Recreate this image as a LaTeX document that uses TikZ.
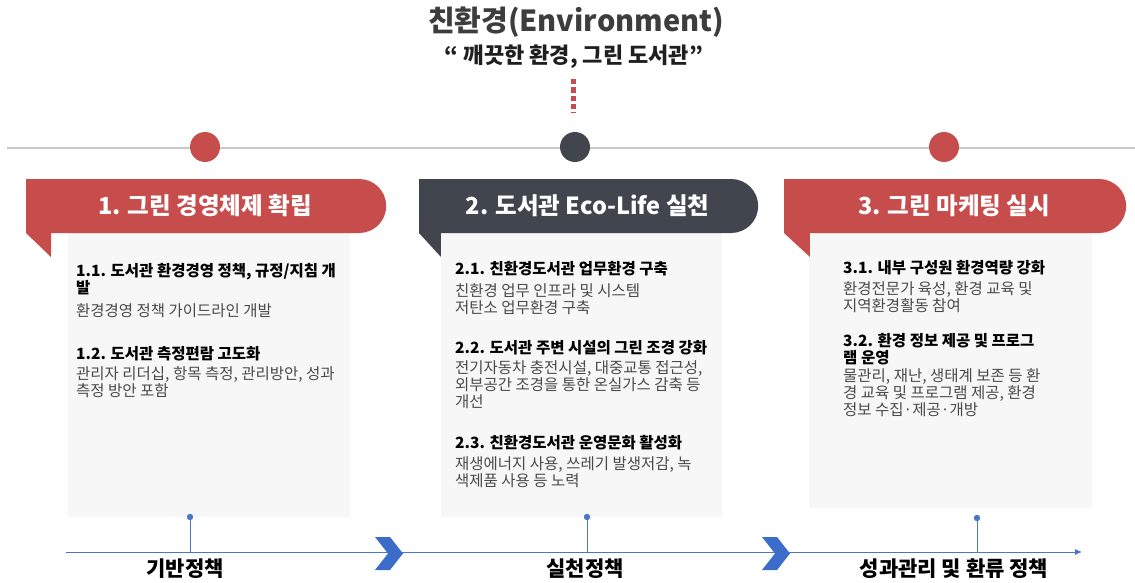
\documentclass[tikz,border=0pt]{standalone}
\usepackage{fontspec}
\setmainfont{Noto Sans CJK KR}
\usetikzlibrary{shapes.misc,arrows.meta}

\definecolor{ribred}{HTML}{C74D4D}
\definecolor{ribdark}{HTML}{41454E}
\definecolor{tlgray}{HTML}{C8C8C8}
\definecolor{boxgray}{HTML}{F7F7F7}
\definecolor{pinblue}{HTML}{4A76C8}
\definecolor{chevblue}{HTML}{3B6CC9}
\definecolor{desctext}{HTML}{4A4A4A}

\def\bodysize{\fontsize{15.5}{17}\selectfont}

\tikzset{
 ribbon/.style={rounded rectangle, rounded rectangle west arc=none,
  minimum width=#1, minimum height=54pt, inner sep=0pt, text=white,
  font=\fontsize{23.5}{26}\selectfont\bfseries},
 dot/.style={circle, minimum size=30pt, inner sep=0pt},
 panel/.style={rectangle, fill=boxgray, inner sep=0pt, anchor=north west},
 head/.style={anchor=north west, inner sep=0pt, align=left,
  font=\bodysize\bfseries, text=black},
 desc/.style={anchor=north west, inner sep=0pt, align=left,
  font=\bodysize, text=desctext},
 stage/.style={font=\fontsize{21}{24}\selectfont\bfseries, text=black},
 pin/.style={draw=pinblue, line width=0.9pt},
}

\begin{document}
\begin{tikzpicture}[x=1pt, y=-1pt]
 \useasboundingbox (0,0) rectangle (1135,583);
 % Title
 \node[font=\fontsize{29}{32}\selectfont\bfseries, text=black!76] (title)
  at (576,22) {친환경(Environment)};
 \node[font=\fontsize{22}{25}\selectfont\bfseries, text=black!88] (sub)
  at (574,57) {“ 깨끗한 환경, 그린 도서관”};
 \draw[ribred, line width=5pt, dash pattern=on 5.5pt off 2.8pt]
  (573,79) -- (573,113);
 % Time line
 \draw[tlgray, line width=2.5pt] (7,148) -- (1135,148);
 \node[dot, fill=ribred] (c1) at (205,147) {};
 \node[dot, fill=ribdark] (c2) at (575,147) {};
 \node[dot, fill=ribred] (c3) at (944,147) {};
 % Panels
 \node[panel, minimum width=282pt, minimum height=284pt] (b1) at (68,233) {};
 \node[panel, minimum width=281pt, minimum height=284pt] (b2) at (441,233) {};
 \node[panel, minimum width=283pt, minimum height=275pt] (b3) at (809,233) {};
 % Ribbons
 \node[ribbon=360pt, fill=ribred] (r1) at (205,206) {1. 그린 경영체제 확립};
 \node[ribbon=339pt, fill=ribdark] (r2) at (587.5,206) {2. 도서관 Eco-Life 실천};
 \node[ribbon=342pt, fill=ribred] (r3) at (954,206) {3. 그린 마케팅 실시};
 \fill[ribred] (r1.west) ++(0,27) -- ++(25,0) -- ++(0,24) -- cycle;
 \fill[ribdark] (r2.west) ++(0,27) -- ++(22,0) -- ++(0,24) -- cycle;
 \fill[ribred] (r3.west) ++(0,27) -- ++(26,0) -- ++(0,24) -- cycle;
 % Panel 1
 \node[head] (h11) at (76,263) {1.1. 도서관 환경경영 정책, 규정/지침 개\\발};
 \node[desc] (d11) at (76,303) {환경경영 정책 가이드라인 개발};
 \node[head] (h12) at (76,346) {1.2. 도서관 측정편람 고도화};
 \node[desc] (d12) at (76,366) {관리자 리더십, 항목 측정, 관리방안, 성과\\측정 방안 포함};
 % Panel 2
 \node[head] (h21) at (455,261) {2.1. 친환경도서관 업무환경 구축};
 \node[desc] (d21) at (455,283) {친환경 업무 인프라 및 시스템\\저탄소 업무환경 구축};
 \node[head] (h22) at (455,340) {2.2. 도서관 주변 시설의 그린 조경 강화};
 \node[desc] (d22) at (455,360) {전기자동차 충전시설, 대중교통 접근성,\\외부공간 조경을 통한 온실가스 감축 등\\개선};
 \node[head] (h23) at (455,435) {2.3. 친환경도서관 운영문화 활성화};
 \node[desc] (d23) at (455,456) {재생에너지 사용, 쓰레기 발생저감, 녹\\색제품 사용 등 노력};
 % Panel 3
 \node[head] (h31) at (843,260) {3.1. 내부 구성원 환경역량 강화};
 \node[desc] (d31) at (843,281) {환경전문가 육성, 환경 교육 및\\지역환경활동 참여};
 \node[head] (h32) at (843,333) {3.2. 환경 정보 제공 및 프로그\\램 운영};
 \node[desc] (d32) at (843,368) {물관리, 재난, 생태계 보존 등 환\\경 교육 및 프로그램 제공, 환경\\정보 수집·제공·개방};
 % Axis
 \coordinate (ax0) at (66,552);
 \coordinate (ax1) at (1082,552);
 \draw[pin, -{Latex[length=7pt,width=6pt]}] (ax0) -- (ax1);
 \foreach \x in {375,762}
  \fill[chevblue] (\x,537) -- ++(15,0) -- ++(13,16.5) -- ++(-13,16.5)
   -- ++(-15,0) -- ++(13,-16.5) -- cycle;
 % Pins
 \coordinate (p1) at (190,517);
 \coordinate (p2) at (587,517);
 \coordinate (p3) at (977,518);
 \foreach \p in {p1,p2,p3} {
  \draw[pin] (\p) -- (\p |- ax0);
  \fill[pinblue] (\p) circle (3.2);
 }
 % Stage labels
 \node[stage] (s1) at (185,569) {기반정책};
 \node[stage] (s2) at (585,569) {실천정책};
 \node[stage] (s3) at (954,569) {성과관리 및 환류 정책};
\end{tikzpicture}
\end{document}
